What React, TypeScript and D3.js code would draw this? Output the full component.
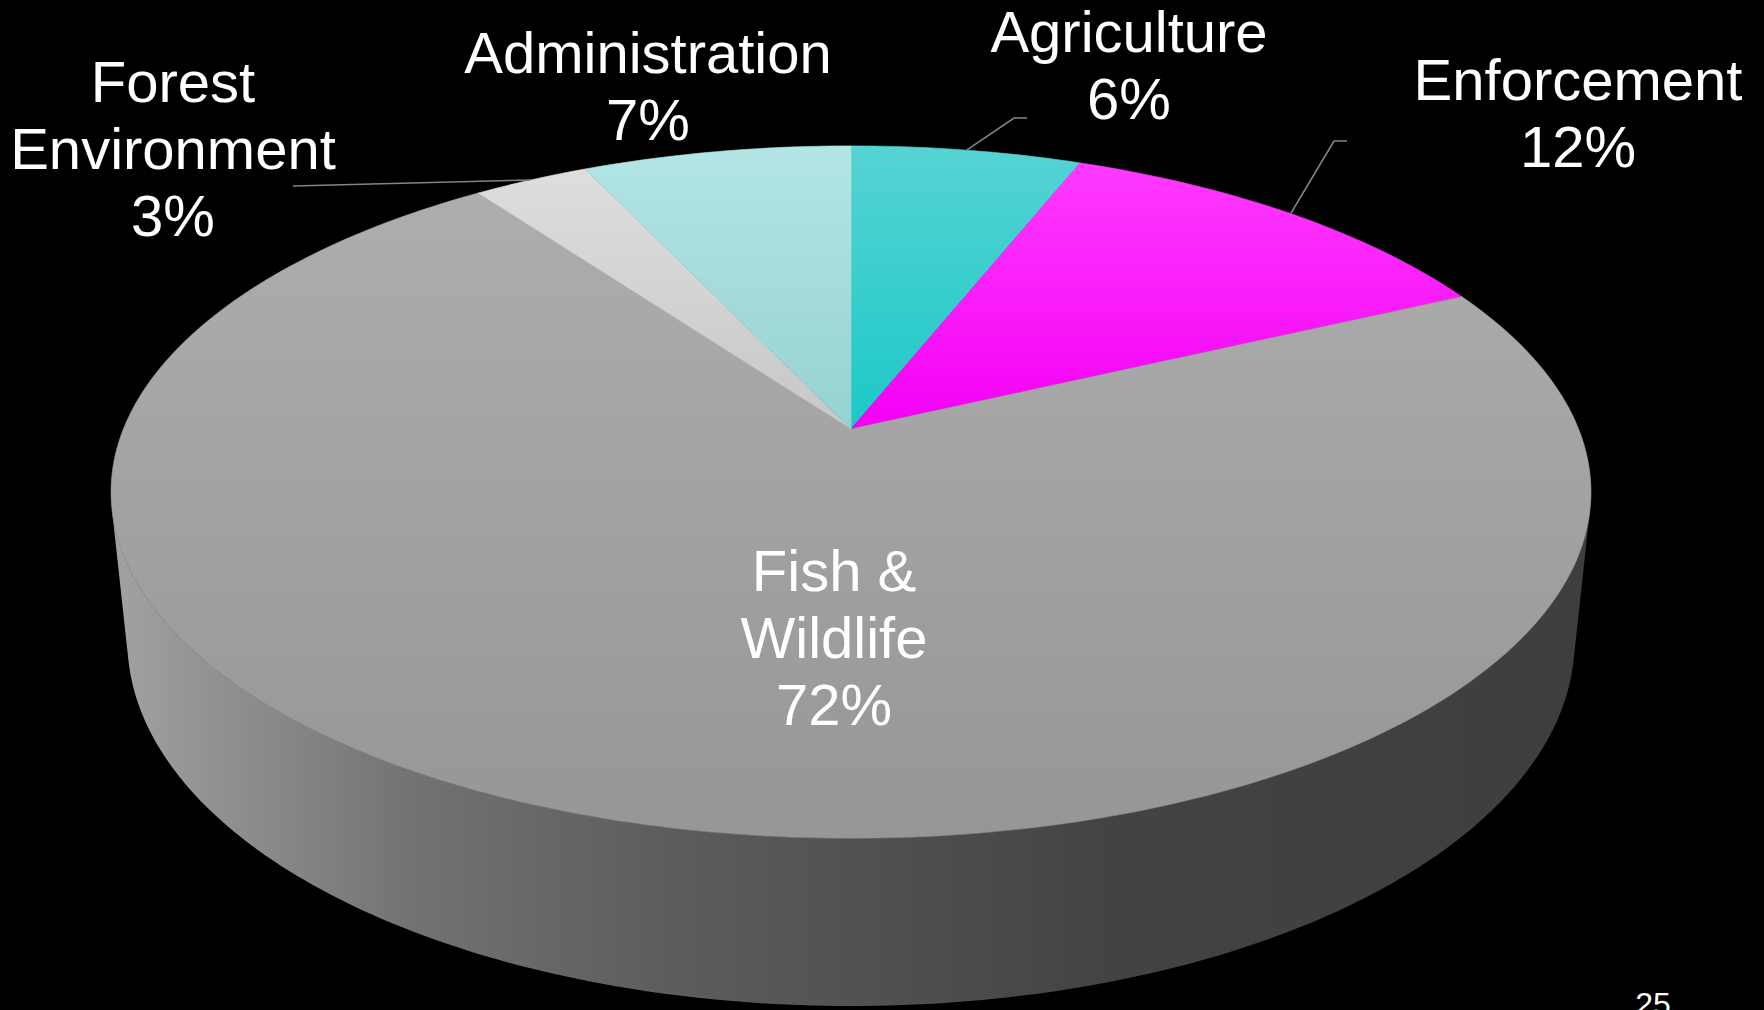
import * as d3 from "d3";

const categories = [
  "Agriculture",
  "Enforcement",
  "Fish & Wildlife",
  "Forest Environment",
  "Administration",
];
const shares = [6, 12, 72, 3, 7];
const labelLines = [
  ["Agriculture"],
  ["Enforcement"],
  ["Fish &", "Wildlife"],
  ["Forest", "Environment"],
  ["Administration"],
];
const topColors = [
  ["#56d3d3", "#1cc8c8"],
  ["#ff3aff", "#f400f4"],
  ["#afafaf", "#969696"],
  ["#dedede", "#c7c7c7"],
  ["#b3e5e5", "#96d2d2"],
];
const pageNumber = "25";

// label layout: centre x, first baseline y, leader elbow points
const labelLayout = [
  { x: 1129, y: 52, leader: [[1027, 118], [1014, 118]] },
  { x: 1578, y: 100, leader: [[1347, 141], [1334, 141]] },
  { x: 834, y: 591, leader: null },
  { x: 173, y: 102, leader: [[293, 186]] },
  { x: 648, y: 73, leader: null },
];

const W = 1764;
const H = 1010;
const FONT = "'Liberation Sans', Arial, sans-serif";
const LINE = 67;

// perspective camera looking down on a unit disk
const SIN = 0.46;
const COS = Math.sqrt(1 - SIN * SIN);
const DIST = 4.875;
const FOCAL = 3547;
const THICK = 0.232;
const CX = 851;
const CY = 429;

function project(theta: number, z: number): [number, number] {
  const x = Math.cos(theta);
  const y = Math.sin(theta);
  const depth = y * COS + DIST - z * SIN;
  const up = y * SIN + z * COS;
  return [CX + (FOCAL * x) / depth, CY - (FOCAL * up) / depth];
}

// pie angle (0 at 12 o'clock, clockwise) -> disk angle
const toTheta = (a: number) => Math.PI / 2 - a;

function rimPoints(a0: number, a1: number, z: number) {
  const n = Math.max(4, Math.ceil(((a1 - a0) / (2 * Math.PI)) * 360));
  return d3.range(n + 1).map((i) => project(toTheta(a0 + ((a1 - a0) * i) / n), z));
}

export default function App() {
  const arcs = d3
    .pie<number>()
    .sort(null)
    .value((d) => d)(shares);
  const total = d3.sum(shares);
  const pct = d3.format(".0%");

  const line = d3.line();

  // visible side of the cylinder
  const lim = Math.asin(1 / (DIST * COS));
  const sideTheta = d3.range(0, 181).map((i) => -lim - ((Math.PI - 2 * lim) * i) / 180);
  const sideTop = sideTheta.map((t) => project(t, 0));
  const sideBottom = sideTheta.map((t) => project(t, -THICK)).reverse();
  const sidePath = line([...sideTop, ...sideBottom])! + "Z";

  const yBack = project(Math.PI / 2, 0)[1];
  const yFront = project(-Math.PI / 2, 0)[1];
  const xLeft = project(Math.PI, 0)[0];
  const xRight = project(0, 0)[0];

  return (
    <svg
      width={W}
      height={H}
      viewBox={`0 0 ${W} ${H}`}
      style={{ position: "fixed", left: 0, top: 0, background: "#000" }}
    >
      <defs>
        <linearGradient
          id="side"
          gradientUnits="userSpaceOnUse"
          x1={xLeft}
          x2={xRight}
          y1={0}
          y2={0}
        >
          <stop offset="0" stopColor="#a0a0a0" />
          <stop offset="0.2" stopColor="#727272" />
          <stop offset="0.38" stopColor="#5c5c5c" />
          <stop offset="0.52" stopColor="#505050" />
          <stop offset="0.68" stopColor="#434343" />
          <stop offset="1" stopColor="#3e3e3e" />
        </linearGradient>
        {topColors.map((c, i) =>
          categories[i] === "Fish & Wildlife" ? (
            <linearGradient
              key={i}
              id={`top${i}`}
              gradientUnits="userSpaceOnUse"
              x1={0}
              x2={0}
              y1={yBack}
              y2={yFront}
            >
              <stop offset="0" stopColor={c[0]} />
              <stop offset="1" stopColor={c[1]} />
            </linearGradient>
          ) : (
            <linearGradient key={i} id={`top${i}`} x1={0} x2={0} y1={0} y2={1}>
              <stop offset="0" stopColor={c[0]} />
              <stop offset="1" stopColor={c[1]} />
            </linearGradient>
          )
        )}
      </defs>

      <rect width={W} height={H} fill="#000" />

      <path d={sidePath} fill="url(#side)" />

      {arcs.map((a, i) => {
        const pts: [number, number][] = [
          [CX, CY],
          ...rimPoints(a.startAngle, a.endAngle, 0),
        ];
        return (
          <path
            key={categories[i]}
            d={line(pts)! + "Z"}
            fill={`url(#top${i})`}
            stroke={`url(#top${i})`}
            strokeWidth={0.6}
          />
        );
      })}

      {arcs.map((a, i) => {
        const lay = labelLayout[i];
        if (!lay.leader) return null;
        const mid = project(toTheta((a.startAngle + a.endAngle) / 2), 0);
        const pts = [...(lay.leader as [number, number][]), mid];
        return (
          <path
            key={`l${i}`}
            d={line(pts)!}
            fill="none"
            stroke="#858585"
            strokeWidth={1.6}
          />
        );
      })}

      {arcs.map((a, i) => {
        const lay = labelLayout[i];
        const lines = [...labelLines[i], pct(a.data / total)];
        return (
          <text
            key={`t${i}`}
            x={lay.x}
            y={lay.y}
            fill="#fff"
            fontFamily={FONT}
            fontSize={58}
            textAnchor="middle"
          >
            {lines.map((s, j) => (
              <tspan key={j} x={lay.x} y={lay.y + j * LINE}>
                {s}
              </tspan>
            ))}
          </text>
        );
      })}

      <text
        x={1653}
        y={1015}
        fill="#fff"
        fontFamily={FONT}
        fontSize={32}
        textAnchor="middle"
      >
        {pageNumber}
      </text>
    </svg>
  );
}
